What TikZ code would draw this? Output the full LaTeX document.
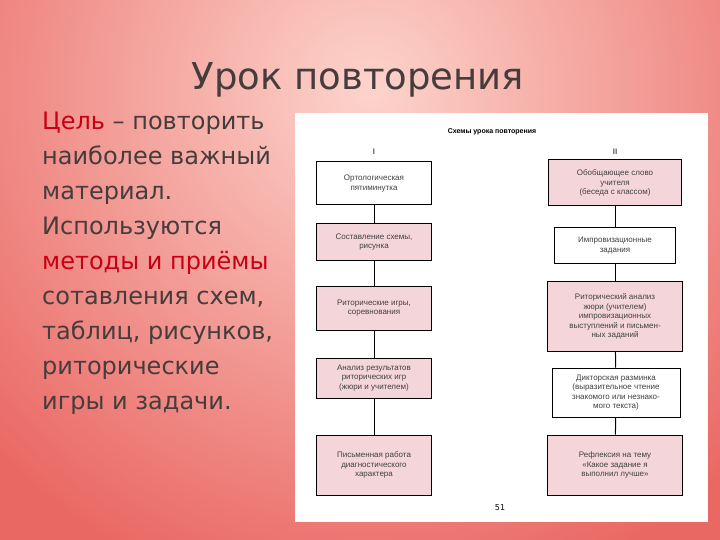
\documentclass[tikz,border=0pt]{standalone}
\usepackage{fontspec}
\setmainfont{DejaVu Sans}
\newfontfamily\boxfont{Liberation Sans}
\definecolor{bgA}{RGB}{234,104,100}
\definecolor{bgC}{RGB}{252,212,204}
\definecolor{pinkbox}{RGB}{244,214,218}
\definecolor{redtxt}{RGB}{200,0,20}
\definecolor{ttl}{RGB}{70,60,60}
\tikzset{
 sbox/.style={draw=black, line width=1pt, minimum width=#1, align=center, font=\boxfont\fontsize{8}{9.5}\selectfont, text=black!75, inner sep=2pt},
 pbox/.style={sbox=#1, fill=pinkbox},
 wbox/.style={sbox=#1, fill=white},
 link/.style={line width=1pt},
 bodytxt/.style={anchor=north west, align=left, font=\fontsize{24}{35}\selectfont, text=ttl}
}
\begin{document}
\begin{tikzpicture}[x=1pt,y=-1pt]
\useasboundingbox (0,0) rectangle (720,540);
\begin{scope}
\clip (0,0) rectangle (720,540);
\fill[bgA] (0,0) rectangle (720,540);
\shade[inner color=bgC, outer color=bgA] (370,90) circle (520);
\end{scope}
\node[font=\fontsize{37}{42}\selectfont, text=ttl] (title) at (358,80) {Урок повторения};
\node[bodytxt, inner sep=0pt] (body) at (42,112) {\textcolor{redtxt}{Цель} – повторить\\наиболее важный\\материал.\\Используются\\\textcolor{redtxt}{методы и приёмы}\\сотавления схем,\\таблиц, рисунков,\\риторические\\игры и задачи.};
\fill[white] (295,113) rectangle (708,522);
\node[font=\boxfont\bfseries\fontsize{7}{8}\selectfont] (head) at (492,132) {Схемы урока повторения};
\node[font=\boxfont\fontsize{8}{8}\selectfont] (n1) at (374,152) {I};
\node[font=\boxfont\fontsize{8}{8}\selectfont] (n2) at (615,152) {II};
\node[wbox=115pt, minimum height=43pt] (a1) at (374,183.5) {Ортологическая\\пятиминутка};
\node[pbox=115pt, minimum height=36pt] (a2) at (374,242) {Составление схемы,\\рисунка};
\node[pbox=115pt, minimum height=44pt] (a3) at (374,308) {Риторические игры,\\соревнования};
\node[pbox=115pt, minimum height=40pt] (a4) at (374,378) {Анализ результатов\\риторических игр\\(жюри и учителем)};
\node[pbox=115pt, minimum height=60pt] (a5) at (374,465) {Письменная работа\\диагностического\\характера};
\node[pbox=133pt, minimum height=46pt] (b1) at (615,183) {Обобщающее слово\\учителя\\(беседа с классом)};
\node[wbox=121pt, minimum height=35pt] (b2) at (615,245.5) {Импровизационные\\задания};
\node[pbox=135pt, minimum height=70pt] (b3) at (615,316.5) {Риторический анализ\\жюри (учителем)\\импровизационных\\выступлений и письмен-\\ных заданий};
\node[wbox=128pt, minimum height=49pt] (b4) at (616,392.5) {Дикторская разминка\\(выразительное чтение\\знакомого или незнако-\\мого текста)};
\node[pbox=135pt, minimum height=60pt] (b5) at (615,465) {Рефлексия на тему\\«Какое задание я\\выполнил лучше»};
\draw[link] (a1) -- (a2); \draw[link] (a2) -- (a3); \draw[link] (a3) -- (a4); \draw[link] (a4) -- (a5);
\draw[link] (b1) -- (b2); \draw[link] (b2) -- (b3); \draw[link] (b3) -- (b4); \draw[link] (b4) -- (b5);
\node[font=\fontsize{8}{8}\selectfont] (pg) at (500,508) {51};
\end{tikzpicture}
\end{document}
